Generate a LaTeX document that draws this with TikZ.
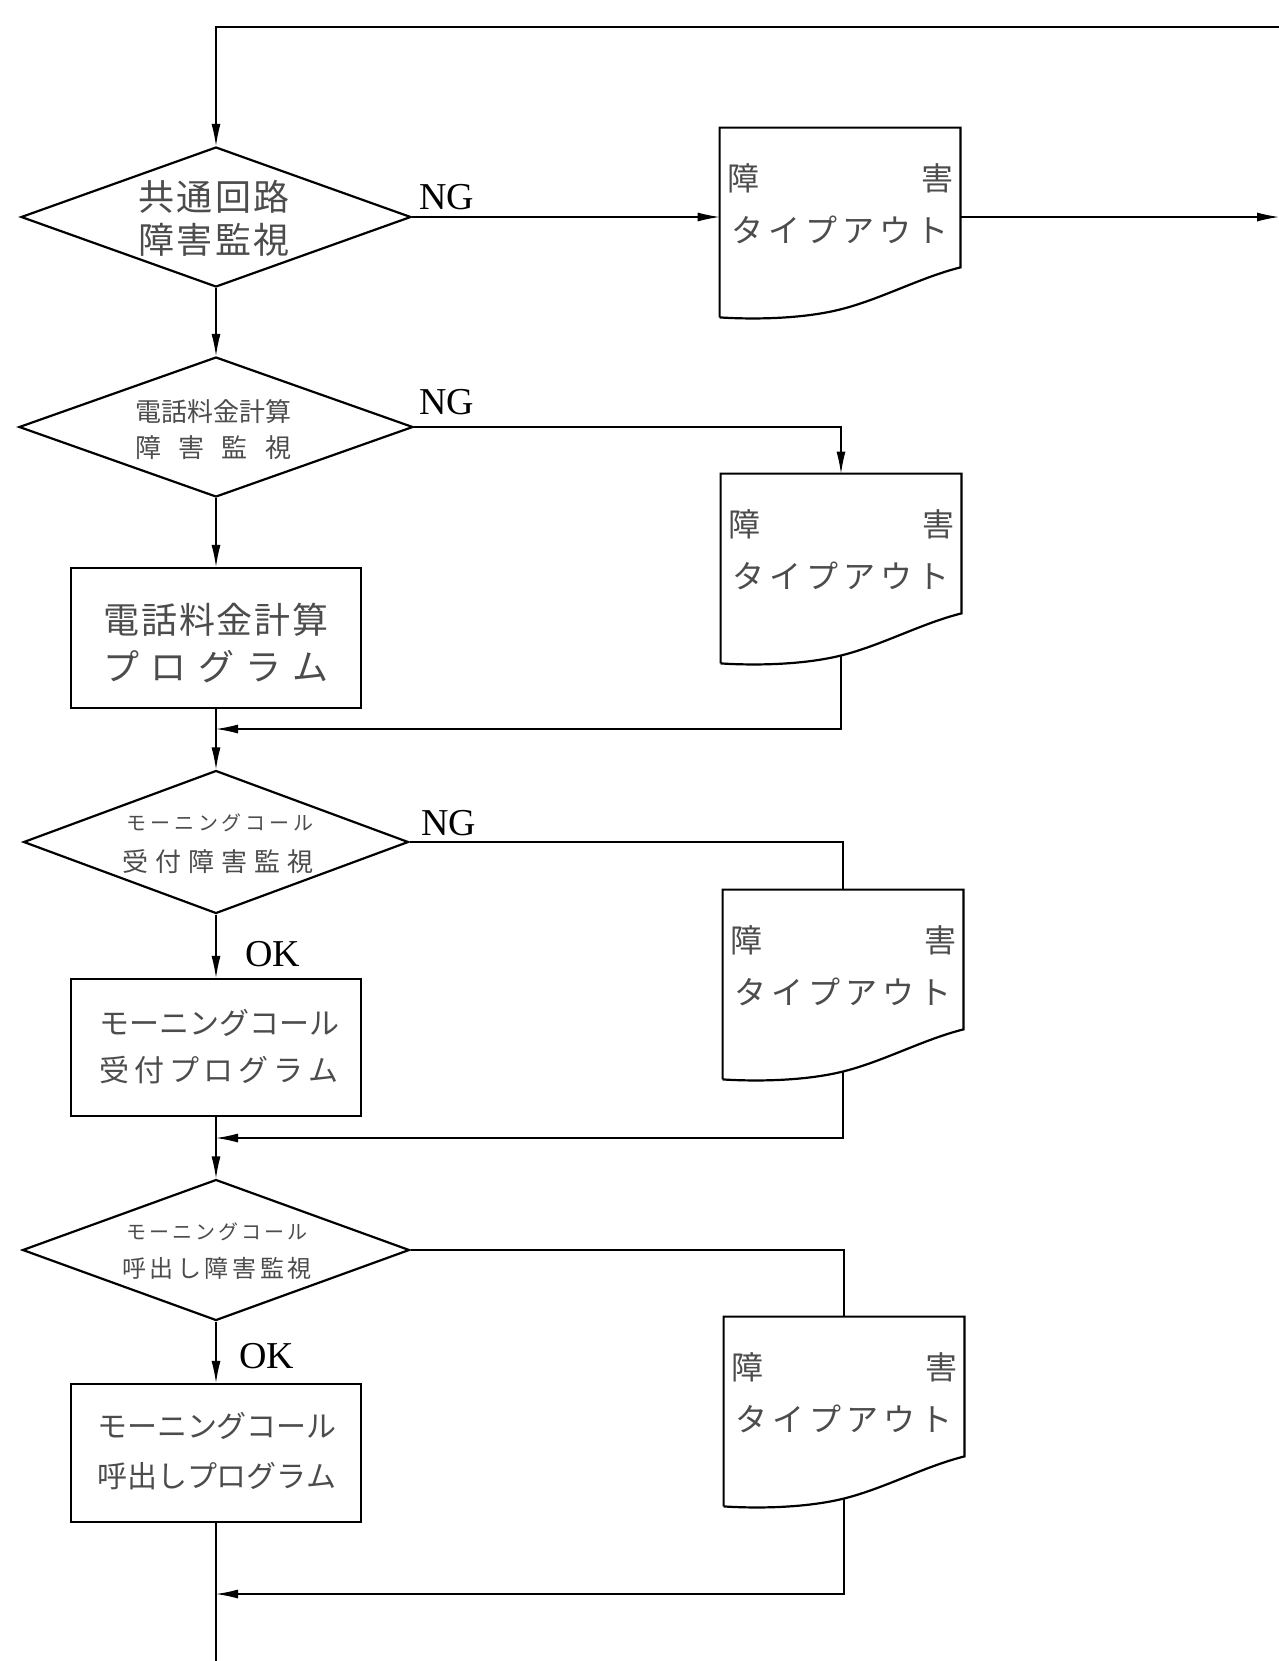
\documentclass[tikz,border=0pt]{standalone}
\usepackage{fontspec}
\setmainfont{Liberation Serif}
\newfontfamily\jpfont{Noto Sans CJK JP}
\usetikzlibrary{arrows.meta,calc,shapes.geometric}
\newcommand\spr[2]{\makebox[#1][s]{#2}}
\definecolor{txtgray}{gray}{0.3}
\begin{document}
\begin{tikzpicture}[x=0.5pt,y=-0.5pt,
  shp/.style={draw, line width=1.1pt},
  conn/.style={draw, line width=0.6pt},
  arr/.style={-{Latex[length=11pt,width=4.5pt]}},
  decbox/.style={shp, shape=diamond, inner sep=0pt},
  procbox/.style={shp, rectangle, minimum width=145pt, inner sep=0pt},
  docnode/.style={rectangle, minimum width=120pt, minimum height=94.5pt, inner sep=0pt},
  jt/.style={inner sep=0pt, text=txtgray, font={\jpfont\fontsize{#1}{#1}\selectfont}},
  lt/.style={inner sep=0pt, font={\fontsize{19pt}{22pt}\selectfont}}
]
\useasboundingbox[fill=white] (0,0) rectangle (1279,1661);

% decisions
\node[decbox, minimum width=195pt, minimum height=70pt] (d1) at (216,217) {};
\node[decbox, minimum width=197pt, minimum height=70pt] (d2) at (216,427) {};
\node[decbox, minimum width=192.5pt, minimum height=71.5pt] (d3) at (216,842) {};
\node[decbox, minimum width=193.5pt, minimum height=70.5pt] (d4) at (216,1250) {};
% processes
\node[procbox, minimum height=70pt] (b1) at (216,638) {};
\node[procbox, minimum height=68.5pt] (b2) at (216,1047.5) {};
\node[procbox, minimum height=69pt] (b3) at (216,1453) {};
% documents
\node[docnode] (t1) at (840,222.5) {};
\node[docnode] (t2) at (841,568.5) {};
\node[docnode] (t3) at (843,984.5) {};
\node[docnode] (t4) at (844,1411.5) {};
\foreach \t in {t1,t2,t3,t4}{
  \draw[shp] (\t.south west) -- (\t.north west) -- (\t.north east)
    -- ($(\t.south east)+(0,-50)$)
    .. controls ($(\t.south east)+(-40,-40)$) and ($(\t.south east)+(-80,-18)$) .. ($(\t.south east)+(-120,-8)$)
    .. controls ($(\t.south east)+(-160,2)$) and ($(\t.south east)+(-210,2)$) .. (\t.south west);
  \node[jt=16pt] (\t a) at ($(\t.north)+(0,51)$) {\spr{113pt}{障\hfill 害}};
  \node[jt=16pt] (\t b) at ($(\t.north)+(0,102)$) {\spr{109pt}{タ\hfill イ\hfill プ\hfill ア\hfill ウ\hfill ト}};
}

% texts
\node[jt=18pt] (d1a) at (214,197) {\spr{75.5pt}{共\hfill 通\hfill 回\hfill 路}};
\node[jt=18pt] (d1b) at (214,240) {\spr{75.5pt}{障\hfill 害\hfill 監\hfill 視}};
\node[jt=13pt] (d2a) at (213,412) {\spr{78pt}{電\hfill 話\hfill 料\hfill 金\hfill 計\hfill 算}};
\node[jt=13pt] (d2b) at (213,448) {\spr{78pt}{障\hfill 害\hfill 監\hfill 視}};
\node[jt=18pt] (b1a) at (216,620) {\spr{112.5pt}{電\hfill 話\hfill 料\hfill 金\hfill 計\hfill 算}};
\node[jt=18pt] (b1b) at (216,667) {\spr{112.5pt}{プ\hfill ロ\hfill グ\hfill ラ\hfill ム}};
\node[jt=10pt] (d3a) at (220,823) {\spr{93.5pt}{モ\hfill ー\hfill ニ\hfill ン\hfill グ\hfill コ\hfill ー\hfill ル}};
\node[jt=13pt] (d3b) at (218,862) {\spr{96pt}{受\hfill 付\hfill 障\hfill 害\hfill 監\hfill 視}};
\node[jt=15pt] (b2a) at (219,1023) {\spr{119.5pt}{モ\hfill ー\hfill ニ\hfill ン\hfill グ\hfill コ\hfill ー\hfill ル}};
\node[jt=15pt] (b2b) at (219,1070) {\spr{119.5pt}{受\hfill 付\hfill プ\hfill ロ\hfill グ\hfill ラ\hfill ム}};
\node[jt=10pt] (d4a) at (217,1232) {\spr{90.5pt}{モ\hfill ー\hfill ニ\hfill ン\hfill グ\hfill コ\hfill ー\hfill ル}};
\node[jt=12pt] (d4b) at (217,1268) {\spr{95pt}{呼\hfill 出\hfill し\hfill 障\hfill 害\hfill 監\hfill 視}};
\node[jt=15pt] (b3a) at (217,1426) {\spr{120pt}{モ\hfill ー\hfill ニ\hfill ン\hfill グ\hfill コ\hfill ー\hfill ル}};
\node[jt=15pt] (b3b) at (217,1476) {\spr{120pt}{呼\hfill 出\hfill し\hfill プ\hfill ロ\hfill グ\hfill ラ\hfill ム}};

% labels
\node[lt] (ng1) at (447,197) {NG};
\node[lt] (ng2) at (447,402) {NG};
\node[lt] (ng3) at (449,823) {NG};
\node[lt] (ok1) at (273,954) {OK};
\node[lt] (ok2) at (267,1356) {OK};

% coordinates
\coordinate (topR) at (1279,27);
\coordinate (topL) at (216,27);
\coordinate (edgeR) at (1279,217);
\coordinate (m2) at (216,729);
\coordinate (m3) at (216,1138);
\coordinate (m4) at (216,1594);
\coordinate (bot) at (216,1661);

% main flow
\draw[conn,arr] (topR) -- (topL) -- (d1.north);
\draw[conn,arr] (d1.south) -- (d2.north);
\draw[conn,arr] (d2.south) -- (b1.north);
\draw[conn,arr] (b1.south) -- (d3.north);
\draw[conn,arr] (d3.south) -- (b2.north);
\draw[conn,arr] (b2.south) -- (d4.north);
\draw[conn,arr] (d4.south) -- (b3.north);
\draw[conn] (b3.south) -- (bot);

% NG branches
\draw[conn,arr] (d1.east) -- (d1.east -| t1.west);
\draw[conn,arr] (d1.east -| t1.east) -- (edgeR);
\draw[conn,arr] (d2.east) -| (t2.north);
\draw[conn] (d3.east) -| (t3.north);
\draw[conn] (d4.east) -| (t4.north);
\draw[conn,arr] ($(t2.south)+(0,-8)$) |- (m2);
\draw[conn,arr] ($(t3.south)+(0,-8)$) |- (m3);
\draw[conn,arr] ($(t4.south)+(0,-8)$) |- (m4);
\end{tikzpicture}
\end{document}
